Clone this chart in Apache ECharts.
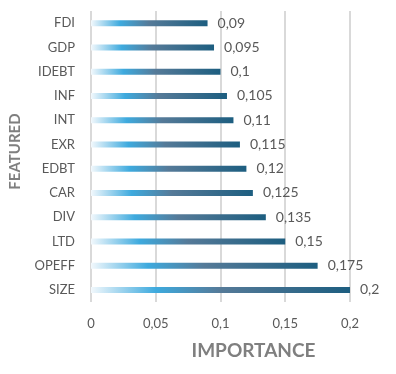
<!DOCTYPE html>
<html><head><meta charset="utf-8">
<script src="https://cdn.jsdelivr.net/npm/echarts@6/dist/echarts.min.js"></script>
<style>html,body{margin:0;padding:0;background:#fff}#c{width:396px;height:374px}</style>
</head><body><div id="c"></div>
<script>
const categories = ["FDI","GDP","IDEBT","INF","INT","EXR","EDBT","CAR","DIV","LTD","OPEFF","SIZE"];
const values = [0.09,0.095,0.1,0.105,0.11,0.115,0.12,0.125,0.135,0.15,0.175,0.2];
const xTicks = [0,0.05,0.1,0.15,0.2];
const FONT = "Lato, 'Open Sans', sans-serif";
const fmt = v => String(+v.toFixed(3)).replace('.', ',');
const chart = echarts.init(document.getElementById('c'), null, {renderer:'canvas'});
chart.setOption({
  animation:false,
  grid:{left:89,right:46,top:11,bottom:72,containLabel:false},
  xAxis:{type:'value',min:xTicks[0],max:xTicks[xTicks.length-1],interval:0.05,
    name:'IMPORTANCE',nameLocation:'middle',nameGap:39,
    nameTextStyle:{fontFamily:FONT,fontSize:19,fontWeight:'bold',color:'#7f7f7f',padding:[0,0,0,66]},
    axisLine:{show:false},axisTick:{show:false},
    axisLabel:{fontFamily:FONT,fontSize:13,color:'#595959',margin:15,formatter:v=>fmt(v)},
    splitLine:{show:true,lineStyle:{color:'#d9d9d9',width:2}}},
  yAxis:{type:'category',data:categories,inverse:true,
    name:'FEATURED',nameLocation:'middle',nameGap:68,nameRotate:90,
    nameTextStyle:{fontFamily:FONT,fontSize:15,fontWeight:'bold',color:'#7f7f7f',padding:[0,0,0,10]},
    axisLine:{show:false},axisTick:{show:false},
    axisLabel:{fontFamily:FONT,fontSize:13,color:'#595959',margin:16}},
  series:[{type:'bar',data:values,barWidth:6,
    itemStyle:{color:new echarts.graphic.LinearGradient(0,0,1,0,[
      {offset:0,color:'#f2f8fc'},{offset:0.25,color:'#3eaade'},
      {offset:0.5,color:'#557a98'},{offset:1,color:'#1d5e80'}])},
    label:{show:true,position:'right',distance:10,fontFamily:FONT,fontSize:14,color:'#595959',
      formatter:p=>fmt(p.value)}}]
});
</script></body></html>
